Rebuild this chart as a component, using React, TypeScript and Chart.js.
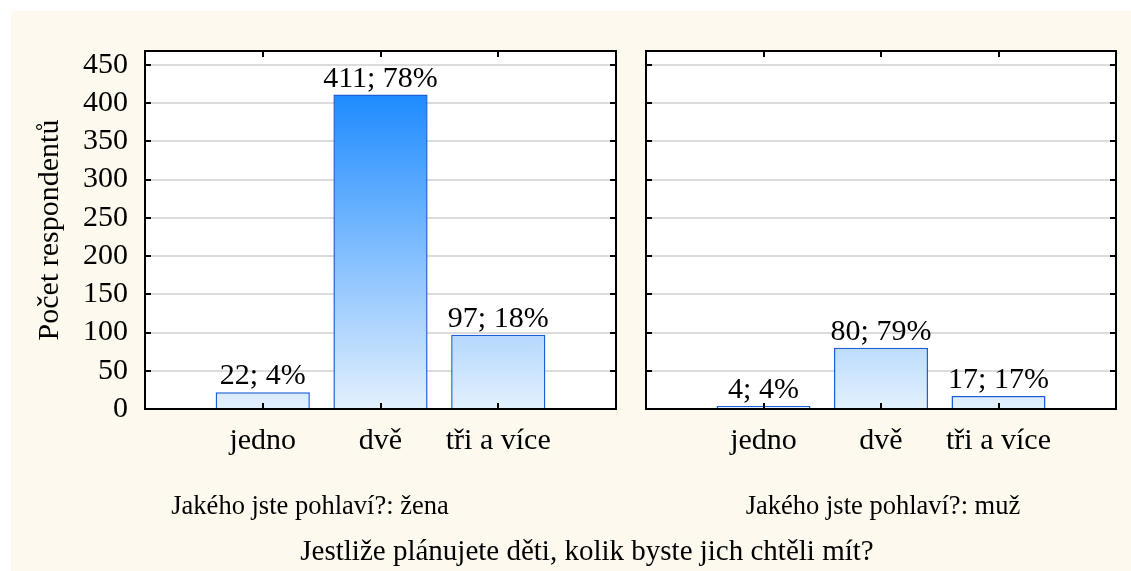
import React, { useEffect, useRef } from 'react';
import { Chart, registerables } from 'chart.js';
Chart.register(...registerables);

// ---- data ----
const categories = ['', 'jedno', 'dvě', 'tři a více', ''];
const womenCounts = [null, 22, 411, 97, null];
const womenPercents = [null, 4, 78, 18, null];
const menCounts = [null, 4, 80, 17, null];
const menPercents = [null, 4, 79, 17, null];
const yTickValues = [0, 50, 100, 150, 200, 250, 300, 350, 400, 450];
const yMax = 468;
const yAxisTitle = 'Počet respondentů';
const panelTitles = ['Jakého jste pohlaví?: žena', 'Jakého jste pohlaví?: muž'];
const mainTitle = 'Jestliže plánujete děti, kolik byste jich chtěli mít?';

// ---- styles ----
const FONT = "'Liberation Serif', 'Times New Roman', serif";
const CREAM = '#FEF9EF';
const GRAD_TOP_VALUE = 411;
const LABEL_SIZE = 30;

const framePlugin = {
  id: 'frame',
  beforeDraw(chart: any) {
    const { ctx, chartArea: a } = chart;
    ctx.save();
    ctx.fillStyle = '#ffffff';
    ctx.fillRect(a.left, a.top, a.right - a.left, a.bottom - a.top);
    ctx.restore();
  },
  afterDatasetsDraw(chart: any) {
    const { ctx } = chart;
    const meta = chart.getDatasetMeta(0);
    const ds = chart.data.datasets[0] as any;
    ctx.save();
    ctx.font = `${LABEL_SIZE}px ${FONT}`;
    ctx.fillStyle = '#000';
    ctx.textAlign = 'center';
    ctx.textBaseline = 'alphabetic';
    meta.data.forEach((bar: any, i: number) => {
      const v = ds.data[i];
      if (v === null || v === undefined) return;
      ctx.fillText(`${v}; ${ds.percents[i]}%`, bar.x, bar.y - 8);
    });
    ctx.restore();
  },
  afterDraw(chart: any) {
    const { ctx, chartArea: a } = chart;
    const x = chart.scales.x;
    const y = chart.scales.y;
    ctx.save();
    ctx.strokeStyle = '#000';
    ctx.lineWidth = 2;
    ctx.strokeRect(a.left, a.top, a.right - a.left, a.bottom - a.top);
    ctx.beginPath();
    yTickValues.forEach((v) => {
      const py = Math.round(y.getPixelForValue(v));
      ctx.moveTo(a.left, py);
      ctx.lineTo(a.left + 6, py);
      ctx.moveTo(a.right, py);
      ctx.lineTo(a.right - 6, py);
    });
    categories.forEach((c, i) => {
      if (!c) return;
      const px = Math.round(x.getPixelForValue(i));
      ctx.moveTo(px, a.bottom);
      ctx.lineTo(px, a.bottom - 6);
      ctx.moveTo(px, a.top);
      ctx.lineTo(px, a.top + 6);
    });
    ctx.stroke();
    ctx.restore();
  },
};

function makeConfig(counts: any[], percents: any[], showY: boolean): any {
  return {
    type: 'bar',
    data: {
      labels: categories,
      datasets: [
        {
          data: counts,
          percents,
          backgroundColor: (c: any) => {
            const chart = c.chart;
            if (!chart.chartArea) return '#8fc3ff';
            const ys = chart.scales.y;
            const g = chart.ctx.createLinearGradient(0, ys.getPixelForValue(0), 0, ys.getPixelForValue(GRAD_TOP_VALUE));
            g.addColorStop(0, '#E3F0FD');
            g.addColorStop(1, '#1E8BFF');
            return g;
          },
          borderColor: '#1A5FD6',
          borderWidth: 1.5,
          borderSkipped: 'bottom',
          categoryPercentage: 0.8,
          barPercentage: 1,
        },
      ],
    },
    options: {
      responsive: false,
      animation: false,
      layout: { padding: { top: 40, right: 15, bottom: 0, left: 0 } },
      plugins: { legend: { display: false }, tooltip: { enabled: false }, title: { display: false } },
      scales: {
        x: {
          offset: false,
          grid: { display: false, drawTicks: false },
          border: { display: false },
          ticks: {
            autoSkip: false,
            maxRotation: 0,
            padding: 14,
            color: '#000',
            font: { family: FONT, size: LABEL_SIZE },
          },
          afterFit: (s: any) => {
            s.height = 162;
          },
        },
        y: {
          min: 0,
          max: yMax,
          afterBuildTicks: (s: any) => {
            s.ticks = yTickValues.map((v) => ({ value: v }));
          },
          grid: { color: '#dcdcdc', lineWidth: 2, drawTicks: false },
          border: { display: false },
          ticks: {
            display: showY,
            padding: 17,
            color: '#000',
            font: { family: FONT, size: LABEL_SIZE },
          },
          title: {
            display: showY,
            text: yAxisTitle,
            color: '#000',
            font: { family: FONT, size: 30 },
            padding: { top: 21, bottom: 0 },
          },
          afterFit: (s: any) => {
            s.width = showY ? 134 : 15;
          },
        },
      },
    },
    plugins: [framePlugin],
  };
}

function Panel({ counts, percents, showY, width, left }: any) {
  const ref = useRef<HTMLCanvasElement>(null);
  useEffect(() => {
    const chart = new Chart(ref.current as HTMLCanvasElement, makeConfig(counts, percents, showY));
    return () => chart.destroy();
  }, []);
  return (
    <canvas
      ref={ref}
      width={width}
      height={560}
      style={{ position: 'absolute', left, top: 0, width, height: 560 }}
    />
  );
}

const textStyle = (cx: number, cy: number, size: number): any => ({
  position: 'absolute',
  left: cx,
  top: cy,
  transform: 'translate(-50%, -50%)',
  whiteSpace: 'nowrap',
  fontFamily: FONT,
  fontSize: size,
  color: '#000',
  lineHeight: 1,
});

export default function App() {
  return (
    <div style={{ position: 'fixed', left: 0, top: 0, width: 1131, height: 571, background: '#fff', overflow: 'hidden' }}>
      <div style={{ position: 'absolute', left: 11, top: 11, width: 1120, height: 560, background: CREAM }}>
        <Panel counts={womenCounts} percents={womenPercents} showY={true} width={620} left={0} />
        <Panel counts={menCounts} percents={menPercents} showY={false} width={500} left={620} />
        <div style={textStyle(299, 494, 26.5)}>{panelTitles[0]}</div>
        <div style={textStyle(872, 494, 26.5)}>{panelTitles[1]}</div>
        <div style={textStyle(576, 539, 29)}>{mainTitle}</div>
      </div>
    </div>
  );
}
